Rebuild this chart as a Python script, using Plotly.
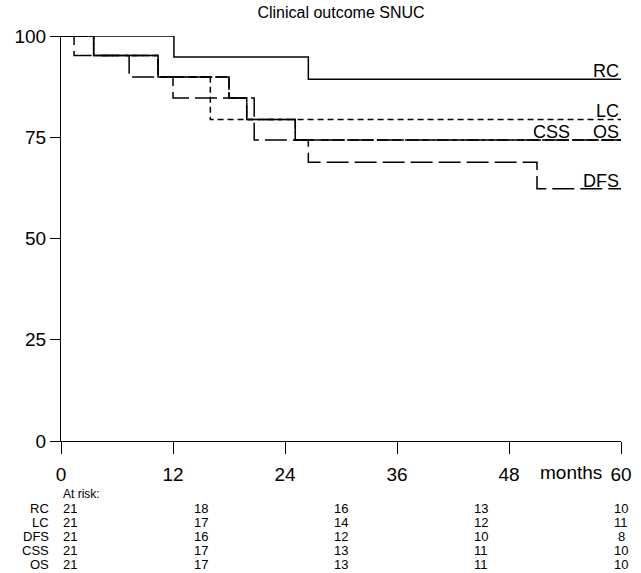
import plotly.graph_objects as go

# ---- data ----
rc_t = [0, 12.1, 26.5, 60]
rc_s = [100, 94.8, 89.3, 89.3]

lc_t = [0, 3.5, 10.4, 16.0, 60]
lc_s = [100, 95.2, 89.9, 79.4, 79.4]

dfs_t = [0, 1.4, 7.3, 12.0, 20.7, 26.5, 51.0, 60]
dfs_s = [100, 95.2, 89.9, 84.7, 74.3, 68.8, 62.3, 62.3]

css_t = [0, 3.5, 10.4, 18.0, 19.9, 25.1, 60]
css_s = [100, 95.2, 89.9, 84.7, 79.4, 74.3, 74.3]

os_t = [0, 3.5, 10.4, 18.0, 19.9, 25.1, 60]
os_s = [100, 95.2, 89.9, 84.7, 79.4, 74.3, 74.3]

x_ticks = [0, 12, 24, 36, 48, 60]
y_ticks = [0, 25, 50, 75, 100]

risk_names = ["RC", "LC", "DFS", "CSS", "OS"]
risk_times = [0, 15, 30, 45, 60]
risk_rc = [21, 18, 16, 13, 10]
risk_lc = [21, 17, 14, 12, 11]
risk_dfs = [21, 16, 12, 10, 8]
risk_css = [21, 17, 13, 11, 10]
risk_os = [21, 17, 13, 11, 10]
risk_rows = [risk_rc, risk_lc, risk_dfs, risk_css, risk_os]

FONT = "Liberation Sans, Arial, sans-serif"
W, H = 641, 573
ML, MR, MT, MB = 61, 20, 36, 132
XMAX = 60.0

def py(pix):
    # pixel row -> paper y
    return (H - MB - pix) / (H - MT - MB)

def pxm(month):
    # month -> paper x
    return month / XMAX

def pxp(pix):
    # pixel column -> paper x
    return (pix - ML) / (W - ML - MR)

fig = go.Figure()

curves = [
    ("RC", rc_t, rc_s, "solid"),
    ("LC", lc_t, lc_s, "6px,4px"),
    ("DFS", dfs_t, dfs_s, "22px,6px"),
    ("CSS", css_t, css_s, "12px,3px"),
    ("OS", os_t, os_s, "24px,4px"),
]
for name, t, s, dash in curves:
    fig.add_trace(go.Scatter(
        x=t, y=s, mode="lines", name=name,
        line=dict(color="black", width=1.5, dash=dash, shape="hv"),
        cliponaxis=False, showlegend=False, hoverinfo="skip"))

ann = []
# curve labels
label_pos = [("RC", 60, rc_s[-1]), ("LC", 60, lc_s[-1]), ("OS", 60, os_s[-1]),
             ("CSS", 54.7, css_s[-1]), ("DFS", 60, dfs_s[-1])]
for txt, xx, yy in label_pos:
    ann.append(dict(x=xx, y=yy, xref="x", yref="y", text=txt, showarrow=False,
                    xanchor="right", yanchor="bottom", yshift=-4,
                    font=dict(family=FONT, size=18, color="black")))

# months label
ann.append(dict(x=pxm(54.6), y=py(472), xref="paper", yref="paper", text="months",
                showarrow=False, xanchor="center", yanchor="middle",
                font=dict(family=FONT, size=19, color="black")))

# at-risk table
ann.append(dict(x=pxm(0), y=py(494), xref="paper", yref="paper", text="At risk:",
                showarrow=False, xanchor="left", yanchor="middle",
                font=dict(family=FONT, size=12, color="black")))
row_pix = [508.5, 522.5, 536.5, 550.5, 564.5]
for name, vals, rp in zip(risk_names, risk_rows, row_pix):
    ann.append(dict(x=pxp(51), y=py(rp), xref="paper", yref="paper", text=name,
                    showarrow=False, xanchor="right", yanchor="middle",
                    font=dict(family=FONT, size=13, color="black")))
    for i, (tt, v) in enumerate(zip(risk_times, vals)):
        ann.append(dict(x=pxm(tt), y=py(rp), xref="paper", yref="paper", text=str(v),
                        showarrow=False,
                        xanchor="left" if i == 0 else "center", yanchor="middle",
                        font=dict(family=FONT, size=13, color="black")))

fig.update_layout(
    width=W, height=H,
    margin=dict(l=ML, r=MR, t=MT, b=MB, pad=0),
    paper_bgcolor="white", plot_bgcolor="white",
    title=dict(text="Clinical outcome SNUC", xref="container", yref="container",
               x=341 / W, y=1 - 12 / H, xanchor="center", yanchor="middle",
               font=dict(family=FONT, size=16, color="black")),
    xaxis=dict(range=[0, XMAX], tickvals=x_ticks, ticktext=[str(v) for v in x_ticks],
               showline=True, linecolor="black", linewidth=1, ticks="outside",
               ticklen=12, tickcolor="black", showgrid=False, zeroline=False,
               ticklabelstandoff=4, automargin=False,
               tickfont=dict(family=FONT, size=19, color="black")),
    yaxis=dict(range=[0, 100], tickvals=y_ticks, showline=True, linecolor="black",
               linewidth=1, ticks="outside", ticklen=10, tickcolor="black",
               showgrid=False, zeroline=False, automargin=False,
               tickfont=dict(family=FONT, size=19, color="black")),
    annotations=ann,
)

fig.write_html("out.html", config={"displayModeBar": False},
               post_script="document.body.style.margin='0';document.body.style.overflow='hidden';")
